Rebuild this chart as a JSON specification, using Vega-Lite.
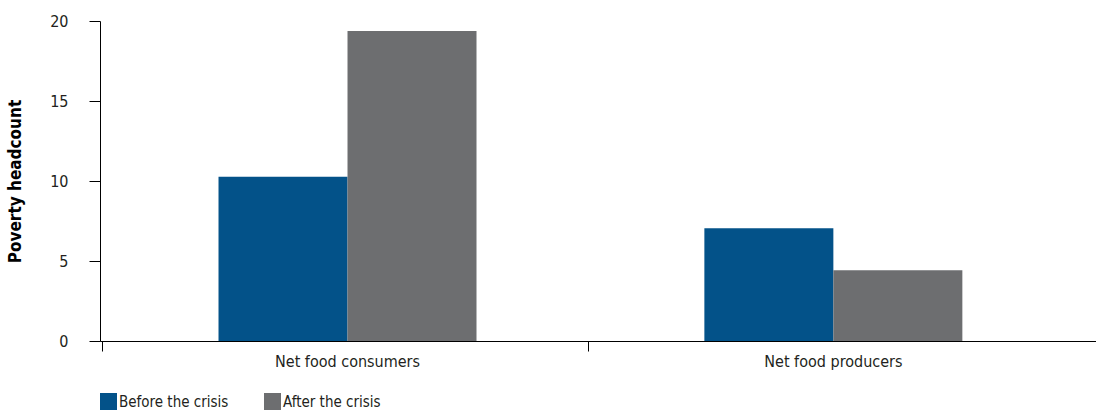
{
  "$schema": "https://vega.github.io/schema/vega-lite/v6.json",
  "width": 996,
  "height": 320,
  "autosize": {"type": "none"},
  "padding": {"left": 100, "top": 21, "right": 0, "bottom": 70},
  "background": "white",
  "data": {
    "values": [
      {"group": "Net food consumers", "period": "Before the crisis", "value": 10.26},
      {"group": "Net food consumers", "period": "After the crisis", "value": 19.37},
      {"group": "Net food producers", "period": "Before the crisis", "value": 7.05},
      {"group": "Net food producers", "period": "After the crisis", "value": 4.42}
    ]
  },
  "mark": {"type": "bar"},
  "encoding": {
    "x": {
      "field": "group",
      "type": "nominal",
      "sort": ["Net food consumers", "Net food producers"],
      "scale": {"paddingInner": 0.469, "paddingOuter": 0.2595, "align": 0.47},
      "axis": {
        "title": null,
        "labelAngle": 0,
        "bandPosition": -0.45,
        "tickSize": 10,
        "tickColor": "#000000",
        "domainColor": "#000000",
        "labelFont": "DejaVu Sans Condensed",
        "labelFontSize": 16,
        "labelColor": "#231f20",
        "labelPadding": 2,
        "grid": false
      }
    },
    "xOffset": {
      "field": "period",
      "type": "nominal",
      "sort": ["Before the crisis", "After the crisis"],
      "scale": {"paddingInner": 0, "paddingOuter": 0}
    },
    "y": {
      "field": "value",
      "type": "quantitative",
      "scale": {"domain": [0, 20]},
      "axis": {
        "title": "Poverty headcount",
        "titleFont": "DejaVu Sans Condensed",
        "titleFontWeight": "bold",
        "titleFontSize": 17,
        "titleColor": "#000000",
        "titlePadding": 25,
        "values": [0, 5, 10, 15, 20],
        "grid": false,
        "tickSize": 11,
        "tickColor": "#000000",
        "domainColor": "#000000",
        "labelFont": "DejaVu Sans Condensed",
        "labelFontSize": 16,
        "labelColor": "#231f20",
        "labelPadding": 21
      }
    },
    "color": {
      "field": "period",
      "type": "nominal",
      "sort": ["Before the crisis", "After the crisis"],
      "scale": {"domain": ["Before the crisis", "After the crisis"], "range": ["#035289", "#6d6e70"]},
      "legend": {
        "title": null,
        "orient": "bottom",
        "direction": "horizontal",
        "symbolType": "square",
        "symbolSize": 289,
        "symbolStrokeWidth": 0,
        "symbolOpacity": 1,
        "labelFont": "DejaVu Sans Condensed",
        "labelFontSize": 15,
        "labelColor": "#231f20",
        "labelOffset": 2,
        "columnPadding": 35,
        "offset": 24
      }
    }
  },
  "config": {
    "view": {"stroke": null},
    "axis": {"domainWidth": 1, "tickWidth": 1}
  }
}
